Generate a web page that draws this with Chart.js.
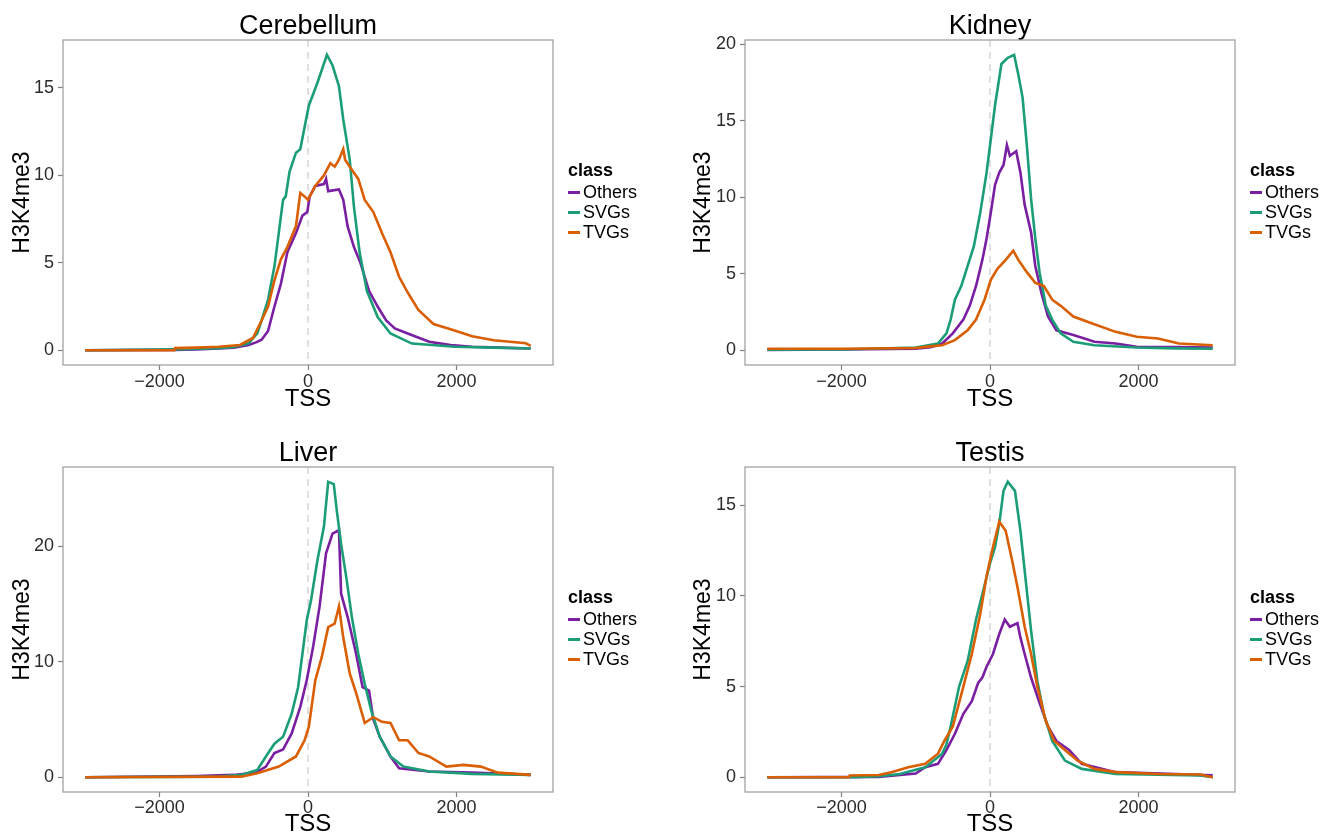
<!DOCTYPE html>
<html>
<head>
<meta charset="utf-8">
<script src="https://cdn.jsdelivr.net/npm/chart.js@4.4.1/dist/chart.umd.min.js"></script>
<style>
  html, body { margin: 0; padding: 0; background: #fff; }
  #wrap { position: relative; width: 1333px; height: 838px; overflow: hidden; }
  #wrap canvas { position: absolute; }
</style>
</head>
<body>
<div id="wrap">
  <canvas id="p0" width="666" height="419" style="left:0;top:0"></canvas>
  <canvas id="p1" width="667" height="419" style="left:666px;top:0"></canvas>
  <canvas id="p2" width="666" height="419" style="left:0;top:419px"></canvas>
  <canvas id="p3" width="667" height="419" style="left:666px;top:419px"></canvas>
</div>
<script>
// Perfiles H3K4me3 alrededor del TSS, 4 tejidos x 3 clases de genes.
// Cada serie: pares [posición respecto al TSS (pb), señal H3K4me3].

const panelTitles = ['Cerebellum', 'Kidney', 'Liver', 'Testis'];
const classLabels = ['Others', 'SVGs', 'TVGs'];
const tssTicks = [-2000, 0, 2000];

const cerebellumYTicks = [0, 5, 10, 15];
const kidneyYTicks = [0, 5, 10, 15, 20];
const liverYTicks = [0, 10, 20];
const testisYTicks = [0, 5, 10, 15];

const cerebellumOthers = [[-3000,0],[-1800,0.02],[-1500,0.05],[-1200,0.1],[-1000,0.15],[-800,0.3],[-700,0.45],[-625,0.6],[-538,1.1],[-452,2.5],[-365,3.8],[-278,5.6],[-162,6.7],[-75,7.7],[-10,7.9],[23,8.8],[98,9.4],[214,9.5],[243,9.8],[272,9.1],[417,9.2],[475,8.6],[533,7.1],[619,5.9],[706,5.0],[822,3.4],[938,2.5],[1053,1.7],[1169,1.25],[1343,0.96],[1632,0.48],[1922,0.29],[2211,0.2],[2600,0.15],[3000,0.1]];
const cerebellumSVGs = [[-3000,0],[-1800,0.05],[-1200,0.12],[-1000,0.18],[-800,0.4],[-683,0.96],[-625,1.7],[-538,2.9],[-452,4.8],[-394,6.7],[-336,8.6],[-300,8.8],[-249,10.2],[-162,11.3],[-104,11.5],[-17,13.4],[12,14.0],[127,15.3],[255,16.9],[330,16.3],[417,15.1],[475,13.2],[562,10.9],[619,8.2],[695,5.6],[793,3.4],[938,1.9],[1111,0.96],[1400,0.38],[1980,0.2],[2500,0.15],[3000,0.1]];
const cerebellumTVGs = [[-3000,0],[-1800,0],[-1790,0.12],[-1500,0.15],[-1200,0.2],[-915,0.3],[-741,0.7],[-625,1.7],[-538,2.5],[-452,4.0],[-365,5.2],[-278,5.9],[-162,7.1],[-104,9.0],[-46,8.8],[0,8.6],[98,9.4],[214,10.0],[301,10.7],[360,10.5],[417,10.9],[475,11.5],[500,10.9],[562,10.5],[677,9.8],[764,8.6],[880,7.9],[996,6.7],[1111,5.6],[1227,4.2],[1343,3.3],[1487,2.3],[1690,1.5],[1922,1.2],[2211,0.8],[2501,0.57],[2935,0.4],[3000,0.25]];

const kidneyOthers = [[-3000,0.02],[-2000,0.05],[-1000,0.1],[-800,0.2],[-644,0.44],[-501,1.1],[-359,2.0],[-273,2.9],[-188,4.2],[-103,5.9],[-46,7.3],[11,9.0],[68,10.8],[125,11.6],[182,12.1],[228,13.4],[268,12.7],[353,13.0],[410,11.6],[467,9.5],[553,7.7],[610,5.5],[695,3.7],[781,2.2],[895,1.3],[1123,1.0],[1407,0.55],[1692,0.44],[1977,0.22],[2500,0.2],[3000,0.18]];
const kidneySVGs = [[-3000,0.03],[-2000,0.05],[-1000,0.18],[-701,0.44],[-587,1.1],[-530,2.0],[-473,3.3],[-387,4.2],[-302,5.5],[-217,6.8],[-131,9.0],[-46,11.6],[11,13.8],[68,16.0],[154,18.7],[239,19.1],[325,19.3],[382,18.0],[439,16.5],[496,13.4],[553,9.9],[610,7.3],[667,5.1],[752,2.9],[838,2.0],[952,1.1],[1123,0.55],[1407,0.33],[1977,0.18],[2500,0.12],[3000,0.1]];
const kidneyTVGs = [[-3000,0.1],[-2000,0.1],[-1000,0.15],[-872,0.22],[-644,0.33],[-473,0.66],[-302,1.3],[-188,2.0],[-74,3.3],[11,4.6],[97,5.3],[211,5.9],[313,6.5],[382,5.9],[496,5.1],[610,4.4],[724,4.2],[838,3.3],[952,2.9],[1123,2.2],[1350,1.8],[1692,1.2],[1977,0.88],[2262,0.77],[2547,0.44],[3000,0.33]];

const liverOthers = [[-3000,0],[-1500,0.1],[-1000,0.2],[-700,0.4],[-567,0.92],[-452,2.1],[-336,2.4],[-220,3.8],[-104,6.1],[-17,8.4],[69,11.3],[156,14.8],[243,19.4],[330,21.1],[417,21.4],[446,15.9],[533,13.9],[648,10.7],[735,7.8],[822,7.5],[880,5.0],[967,3.5],[1111,1.8],[1227,0.78],[1632,0.49],[2211,0.4],[3000,0.2]];
const liverSVGs = [[-3000,0],[-1200,0.05],[-900,0.2],[-683,0.63],[-567,1.8],[-452,2.9],[-336,3.5],[-220,5.5],[-133,7.8],[-75,10.7],[-17,13.6],[40,15.3],[127,18.8],[214,21.7],[272,25.6],[347,25.4],[388,23.1],[446,20.2],[521,17.1],[590,13.9],[677,10.7],[764,8.1],[851,5.8],[967,3.5],[1111,1.8],[1285,0.92],[1632,0.49],[2211,0.29],[3000,0.2]];
const liverTVGs = [[-3000,0],[-900,0.05],[-683,0.35],[-394,0.92],[-162,1.8],[-46,3.2],[12,4.4],[98,8.4],[185,10.4],[272,13.0],[359,13.3],[417,14.8],[475,12.1],[562,9.0],[648,7.3],[764,4.7],[880,5.2],[996,4.8],[1111,4.7],[1227,3.2],[1343,3.2],[1487,2.1],[1632,1.8],[1864,0.92],[2095,1.07],[2327,0.92],[2558,0.4],[3000,0.2]];

const testisOthers = [[-3000,0],[-1500,0.02],[-1000,0.2],[-872,0.55],[-701,0.74],[-587,1.5],[-473,2.4],[-359,3.5],[-245,4.2],[-160,5.2],[-103,5.5],[-46,6.1],[40,6.8],[125,7.9],[199,8.7],[268,8.3],[370,8.5],[410,7.7],[467,6.8],[553,5.5],[667,4.1],[781,2.8],[895,2.0],[1066,1.5],[1236,0.74],[1692,0.28],[3000,0.1]];
const testisSVGs = [[-3000,0],[-1800,0],[-1500,0.05],[-1214,0.18],[-872,0.55],[-644,1.3],[-587,1.8],[-530,2.8],[-473,3.9],[-416,5.0],[-302,6.4],[-188,8.7],[-103,10.1],[0,11.8],[68,12.7],[125,14.0],[182,15.8],[239,16.3],[336,15.8],[410,13.6],[467,11.4],[553,8.1],[638,5.3],[724,3.5],[838,2.0],[1009,0.92],[1236,0.46],[1692,0.18],[2832,0.1],[3000,0]];
const testisTVGs = [[-3000,0],[-1900,0],[-1890,0.1],[-1500,0.12],[-1328,0.28],[-1100,0.55],[-872,0.74],[-701,1.3],[-615,2.0],[-501,2.8],[-359,5.0],[-245,6.8],[-131,9.0],[-46,11.1],[40,12.7],[125,14.1],[211,13.6],[296,12.0],[370,10.5],[467,8.3],[553,6.8],[638,5.0],[752,3.1],[866,2.0],[1009,1.5],[1180,0.92],[1407,0.46],[1692,0.28],[2262,0.18],[2832,0.15],[3000,0]];

// estilo
const CLASS_COLORS = ['#7a1fa2', '#1b9e77', '#d95f02'];
const FONT = '"Liberation Sans", Arial, Helvetica, sans-serif';

// marco del panel, línea discontinua en el TSS y leyenda "class"
const panelDecor = {
  id: 'panelDecor',
  beforeDatasetsDraw(chart) {
    const { ctx, chartArea: a, scales: { x } } = chart;
    const x0 = x.getPixelForValue(0);
    ctx.save();
    ctx.strokeStyle = '#cfcfcf';
    ctx.lineWidth = 1.3;
    ctx.setLineDash([7, 5]);
    ctx.beginPath();
    ctx.moveTo(x0, a.top);
    ctx.lineTo(x0, a.bottom);
    ctx.stroke();
    ctx.restore();
  },
  afterDraw(chart) {
    const { ctx, chartArea: a } = chart;
    ctx.save();
    ctx.strokeStyle = '#9a9a9a';
    ctx.lineWidth = 1.2;
    ctx.strokeRect(a.left, a.top, a.right - a.left, a.bottom - a.top);

    const cy = (a.top + a.bottom) / 2;
    const lx = a.right + 15;
    ctx.textBaseline = 'middle';
    ctx.textAlign = 'left';
    ctx.fillStyle = '#000';
    ctx.font = 'bold 18px ' + FONT;
    ctx.fillText('class', lx, cy - 31);
    ctx.font = '18px ' + FONT;
    chart.data.datasets.forEach((ds, i) => {
      const y = cy - 10 + i * 20;
      ctx.strokeStyle = ds.borderColor;
      ctx.lineWidth = 3;
      ctx.beginPath();
      ctx.moveTo(lx, y);
      ctx.lineTo(lx + 12, y);
      ctx.stroke();
      ctx.fillStyle = '#000';
      ctx.fillText(ds.label, lx + 15, y + 1);
    });
    ctx.restore();
  },
};

function renderPanel(canvasId, title, series, yTicks, box) {
  const canvas = document.getElementById(canvasId);
  const W = canvas.width, H = canvas.height;
  const peak = Math.max(...series.flat().map(p => p[1]));

  return new Chart(canvas.getContext('2d'), {
    type: 'line',
    data: {
      datasets: series.map((pts, i) => ({
        label: classLabels[i],
        data: pts.map(([x, y]) => ({ x, y })),
        borderColor: CLASS_COLORS[i],
        borderWidth: 2.6,
        pointRadius: 0,
        tension: 0,
        fill: false,
        order: 3 - i, // TVGs encima, como en ggplot
      })),
    },
    options: {
      responsive: false,
      animation: false,
      events: [],
      layout: { padding: { left: 0, right: W - box.right, top: 0, bottom: 0 } },
      plugins: {
        legend: { display: false },
        tooltip: { enabled: false },
        title: {
          display: true,
          fullSize: false,
          text: title,
          color: '#000',
          font: { family: FONT, size: 27, weight: 'normal', lineHeight: 1 },
          padding: { top: box.titleTop, bottom: box.top - 27 - box.titleTop },
        },
      },
      scales: {
        x: {
          type: 'linear',
          min: -3300,
          max: 3300,
          afterBuildTicks: (s) => { s.ticks = tssTicks.map(v => ({ value: v })); },
          afterFit: (s) => { s.height = H - box.bottom; },
          grid: { drawOnChartArea: false, drawTicks: true, tickLength: 5, color: '#7f7f7f', tickWidth: 1.2 },
          border: { display: false },
          ticks: {
            color: '#2b2b2b',
            padding: box.xTickPad,
            maxRotation: 0,
            autoSkip: false,
            font: { family: FONT, size: 18, lineHeight: 1 },
            callback: (v) => v < 0 ? '\u2212' + Math.abs(v) : String(v),
          },
          title: {
            display: true,
            text: 'TSS',
            color: '#000',
            font: { family: FONT, size: 24, lineHeight: 1 },
            padding: { top: 0, bottom: box.xTitlePad },
          },
        },
        y: {
          min: -0.05 * peak,
          max: 1.05 * peak,
          afterBuildTicks: (s) => { s.ticks = yTicks.map(v => ({ value: v })); },
          afterFit: (s) => { s.width = box.left; },
          grid: { drawOnChartArea: false, drawTicks: true, tickLength: 5, color: '#7f7f7f', tickWidth: 1.2 },
          border: { display: false },
          ticks: {
            color: '#2b2b2b',
            padding: 4,
            font: { family: FONT, size: 18, lineHeight: 1 },
          },
          title: {
            display: true,
            text: 'H3K4me3',
            color: '#000',
            font: { family: FONT, size: 23, lineHeight: 1 },
            padding: { top: box.yTitlePad, bottom: 0 },
          },
        },
      },
    },
    plugins: [panelDecor],
  });
}

const topBox = { top: 40, bottom: 365, titleTop: 13, xTickPad: 3, xTitlePad: 8 };
const lowBox = { top: 48, bottom: 373, titleTop: 21, xTickPad: 2, xTitlePad: 2 };

renderPanel('p0', panelTitles[0], [cerebellumOthers, cerebellumSVGs, cerebellumTVGs], cerebellumYTicks,
  Object.assign({ left: 63, right: 553, yTitlePad: 11 }, topBox));
renderPanel('p1', panelTitles[1], [kidneyOthers, kidneySVGs, kidneyTVGs], kidneyYTicks,
  Object.assign({ left: 79, right: 569, yTitlePad: 26 }, topBox));
renderPanel('p2', panelTitles[2], [liverOthers, liverSVGs, liverTVGs], liverYTicks,
  Object.assign({ left: 63, right: 553, yTitlePad: 11 }, lowBox));
renderPanel('p3', panelTitles[3], [testisOthers, testisSVGs, testisTVGs], testisYTicks,
  Object.assign({ left: 79, right: 569, yTitlePad: 26 }, lowBox));
</script>
</body>
</html>
